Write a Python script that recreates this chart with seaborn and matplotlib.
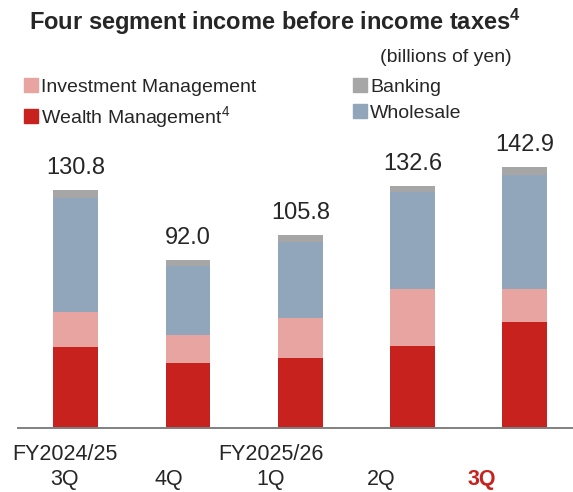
import matplotlib
matplotlib.use("Agg")
import matplotlib.pyplot as plt
from matplotlib.patches import Patch
import seaborn as sns
import pandas as pd

# data (billions of yen)
periods = ["FY24-3Q", "FY24-4Q", "FY25-1Q", "FY25-2Q", "FY25-3Q"]
tick_labels = ["FY2024/25\n3Q", "\n4Q", "FY2025/26\n1Q", "\n2Q", "\n3Q"]
wealth = [44.4, 35.3, 38.4, 45.0, 58.2]
investment = [19.0, 15.7, 21.6, 31.1, 17.9]
wholesale = [62.4, 37.9, 41.9, 53.2, 62.4]
banking = [4.9, 3.0, 3.8, 3.3, 4.4]
totals = [130.8, 92.0, 105.8, 132.6, 142.9]

c_wm = "#C8221F"
c_im = "#E8A4A1"
c_ws = "#91A6BA"
c_bk = "#A6A6A6"

sns.set_style("white")
plt.rcParams['font.family'] = ['Liberation Sans', 'DejaVu Sans']
plt.rcParams['mathtext.fontset'] = 'custom'
plt.rcParams['mathtext.rm'] = 'Liberation Sans'
plt.rcParams['mathtext.bf'] = 'Liberation Sans:bold'
plt.rcParams['mathtext.default'] = 'regular'

df = pd.DataFrame({"period": periods, "wm": wealth, "im": investment,
                   "ws": wholesale, "bk": banking, "total": totals})
df["cum_im"] = df["wm"] + df["im"]
df["cum_ws"] = df["cum_im"] + df["ws"]
df["cum_bk"] = df["cum_ws"] + df["bk"]

fig = plt.figure(figsize=(5.73, 4.92), dpi=100)
ax = fig.add_axes([18 / 573, 1 - 427.7 / 492, 555 / 573, 287.7 / 492])

# layered bars, tallest first, to build the stacks
for col, color in [("cum_bk", c_bk), ("cum_ws", c_ws), ("cum_im", c_im), ("wm", c_wm)]:
    sns.barplot(data=df, x="period", y=col, color=color, saturation=1,
                width=0.4, linewidth=0, ax=ax)

for i, t in enumerate(totals):
    ax.annotate(f"{t:.1f}", (i, df["cum_bk"][i]), xytext=(0, 11.5),
                textcoords="offset points", ha="center", va="baseline",
                fontsize=17)

ax.set_xlim(-0.515, 4.43)
ax.set_ylim(0, 157.9)
ax.set_xlabel("")
ax.set_ylabel("")
ax.set_yticks([])
for s in ["left", "right", "top"]:
    ax.spines[s].set_visible(False)
ax.spines["bottom"].set_color("#808080")
ax.spines["bottom"].set_linewidth(1.4)

# labels sit a little left of the bars in the original
label_pos = [-0.10, 0.83, 1.74, 2.72, 3.62]
ax.set_xticks(label_pos)
ax.set_xticklabels(tick_labels, fontsize=15.5, linespacing=1.25)
ax.tick_params(axis="x", length=0, pad=12)
last = ax.get_xticklabels()[-1]
last.set_color(c_wm)
last.set_fontweight("bold")

fig.text(0.479, 1 - 22 / 492, r"Four segment income before income taxes$^{\mathbf{4}}$",
         ha="center", va="center", fontsize=17, fontweight="bold")
fig.text(512 / 573, 1 - 57 / 492, "(billions of yen)", ha="right",
         va="center", fontsize=14)

handles = [Patch(color=c_im), Patch(color=c_wm), Patch(color=c_bk), Patch(color=c_ws)]
labels = ["Investment Management", r"Wealth Management$^{4}$", "Banking", "Wholesale"]
fig.legend(handles, labels, ncol=2, loc="upper left",
           bbox_to_anchor=(24 / 573, 1 - 78 / 492), frameon=False,
           fontsize=14, handlelength=0.72, handleheight=0.72,
           handletextpad=0.15, columnspacing=5.0, labelspacing=0.42,
           borderpad=0, borderaxespad=0)

fig.savefig("out.png", dpi=100)
